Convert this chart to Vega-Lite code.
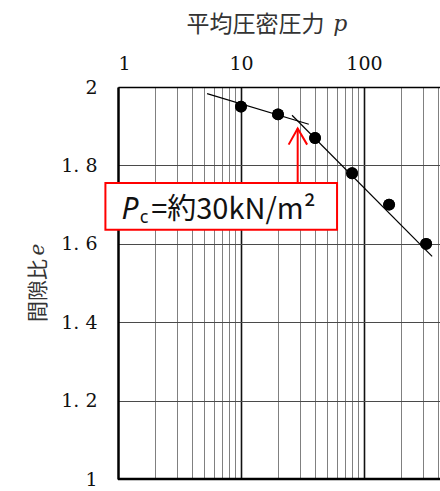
{
  "$schema": "https://vega.github.io/schema/vega-lite/v6.json",
  "width": 322,
  "height": 392,
  "autosize": "none",
  "padding": {"left": 118, "top": 87, "right": 0, "bottom": 12},
  "background": "white",
  "config": {"view": {"stroke": null}},
  "datasets": {
    "pts": [
      {"p": 10, "e": 1.95},
      {"p": 20, "e": 1.93},
      {"p": 40, "e": 1.87},
      {"p": 80, "e": 1.78},
      {"p": 160, "e": 1.70},
      {"p": 320, "e": 1.60}
    ],
    "fit": [
      {"seg": "a", "p": 5.3, "e": 1.983},
      {"seg": "a", "p": 35.6, "e": 1.905},
      {"seg": "b", "p": 26, "e": 1.928},
      {"seg": "b", "p": 358, "e": 1.568}
    ],
    "arrow": [
      {"part": "shaft", "p": 28.9, "e": 1.755},
      {"part": "shaft", "p": 28.9, "e": 1.894},
      {"part": "head", "p": 24.4, "e": 1.853},
      {"part": "head", "p": 28.9, "e": 1.894},
      {"part": "head", "p": 34.5, "e": 1.853}
    ],
    "box": [{"p": 0.79, "p2": 60.4, "e": 1.636, "e2": 1.755}]
  },
  "layer": [
    {
      "data": {"name": "pts"},
      "mark": {"type": "point", "filled": true, "color": "black", "size": 140, "opacity": 1},
      "encoding": {
        "x": {
          "field": "p", "type": "quantitative",
          "scale": {"type": "log", "domain": [1, 415], "nice": false},
          "axis": {
            "orient": "top",
            "values": [1,2,3,4,5,6,7,8,9,10,20,30,40,50,60,70,80,90,100,200,300,400],
            "labelExpr": "datum.value == 1 || datum.value == 10 || datum.value == 100 ? toString(datum.value) : ''",
            "labelOverlap": false,
            "labelFont": "DejaVu Serif",
            "labelFontSize": 19,
            "labelColor": "#111",
            "labelPadding": 14,
            "ticks": false,
            "domain": true,
            "domainColor": "black",
            "domainWidth": 1.5,
            "grid": true,
            "gridColor": {"condition": {"test": "datum.value == 10 || datum.value == 100", "value": "#111"}, "value": "#808080"},
            "gridWidth": {"condition": {"test": "datum.value == 10 || datum.value == 100", "value": 1.6}, "value": 1},
            "gridOpacity": 1,
            "title": "平均圧密圧力",
            "titleFont": "Noto Sans CJK JP",
            "titleFontSize": 23,
            "titleFontWeight": "normal",
            "titleColor": "#333",
            "titleX": 137,
            "titleY": -63,
            "titleAlign": "center",
            "titleBaseline": "middle"
          }
        },
        "y": {
          "field": "e", "type": "quantitative",
          "scale": {"domain": [1, 2], "nice": false, "zero": false},
          "axis": {
            "values": [1, 1.2, 1.4, 1.6, 1.8, 2],
            "labelExpr": "datum.value == 1 ? '1' : datum.value == 2 ? '2' : replace(format(datum.value, '.1f'), '.', '. ')",
            "labelFont": "DejaVu Serif",
            "labelFontSize": 19,
            "labelColor": "#111",
            "labelPadding": 21,
            "ticks": false,
            "domain": true,
            "domainColor": "black",
            "domainWidth": 2.5,
            "grid": true,
            "gridColor": "#4a4a4a",
            "gridWidth": 1.2,
            "gridOpacity": 1,
            "title": "間隙比",
            "titleFont": "Noto Sans CJK JP",
            "titleFontSize": 21,
            "titleFontWeight": "normal",
            "titleColor": "#333",
            "titleX": -80,
            "titleY": 203,
            "titleAngle": -90,
            "titleAlign": "center",
            "titleBaseline": "middle"
          }
        }
      }
    },
    {
      "data": {"values": [{"e": 1}]},
      "mark": {"type": "rule", "color": "black", "strokeWidth": 2.5},
      "encoding": {"y": {"field": "e", "type": "quantitative"}}
    },
    {
      "data": {"name": "fit"},
      "mark": {"type": "line", "color": "black", "strokeWidth": 1.2},
      "encoding": {
        "x": {"field": "p", "type": "quantitative"},
        "y": {"field": "e", "type": "quantitative"},
        "detail": {"field": "seg"}
      }
    },
    {
      "data": {"name": "pts"},
      "mark": {"type": "point", "filled": true, "color": "black", "size": 140, "opacity": 1},
      "encoding": {
        "x": {"field": "p", "type": "quantitative"},
        "y": {"field": "e", "type": "quantitative"}
      }
    },
    {
      "data": {"name": "box"},
      "mark": {"type": "rect", "fill": "white", "stroke": "#ff0000", "strokeWidth": 2, "clip": false},
      "encoding": {
        "x": {"field": "p", "type": "quantitative"},
        "x2": {"field": "p2"},
        "y": {"field": "e", "type": "quantitative"},
        "y2": {"field": "e2"}
      }
    },
    {
      "data": {"name": "arrow"},
      "mark": {"type": "line", "color": "#ff0000", "strokeWidth": 2},
      "encoding": {
        "x": {"field": "p", "type": "quantitative"},
        "y": {"field": "e", "type": "quantitative"},
        "detail": {"field": "part"}
      }
    },
    {
      "data": {"values": [{"p": 1.07, "e": 1.662, "t": "P"}]},
      "mark": {"type": "text", "font": "Noto Sans", "fontStyle": "italic", "fontSize": 30, "align": "left", "baseline": "alphabetic", "color": "#111"},
      "encoding": {
        "x": {"field": "p", "type": "quantitative"},
        "y": {"field": "e", "type": "quantitative"},
        "text": {"field": "t"}
      }
    },
    {
      "data": {"values": [{"p": 1.5, "e": 1.654, "t": "c"}]},
      "mark": {"type": "text", "font": "Noto Sans", "fontSize": 18, "align": "left", "baseline": "alphabetic", "color": "#111"},
      "encoding": {
        "x": {"field": "p", "type": "quantitative"},
        "y": {"field": "e", "type": "quantitative"},
        "text": {"field": "t"}
      }
    },
    {
      "data": {"values": [{"p": 1.86, "e": 1.662, "t": "=約30kN/m²"}]},
      "mark": {"type": "text", "font": "Noto Sans CJK JP", "fontSize": 29, "align": "left", "baseline": "alphabetic", "color": "#111"},
      "encoding": {
        "x": {"field": "p", "type": "quantitative"},
        "y": {"field": "e", "type": "quantitative"},
        "text": {"field": "t"}
      }
    },
    {
      "data": {"values": [{"p": 64.3, "e": 2.161, "t": "p"}]},
      "mark": {"type": "text", "font": "DejaVu Serif", "fontStyle": "italic", "fontSize": 22, "align": "center", "baseline": "middle", "color": "#333", "clip": false},
      "encoding": {
        "x": {"field": "p", "type": "quantitative"},
        "y": {"field": "e", "type": "quantitative"},
        "text": {"field": "t"}
      }
    },
    {
      "data": {"values": [{"p": 0.225, "e": 1.585, "t": "e"}]},
      "mark": {"type": "text", "font": "DejaVu Serif", "fontStyle": "italic", "fontSize": 20, "align": "center", "baseline": "middle", "angle": 270, "color": "#333", "clip": false},
      "encoding": {
        "x": {"field": "p", "type": "quantitative"},
        "y": {"field": "e", "type": "quantitative"},
        "text": {"field": "t"}
      }
    }
  ]
}
